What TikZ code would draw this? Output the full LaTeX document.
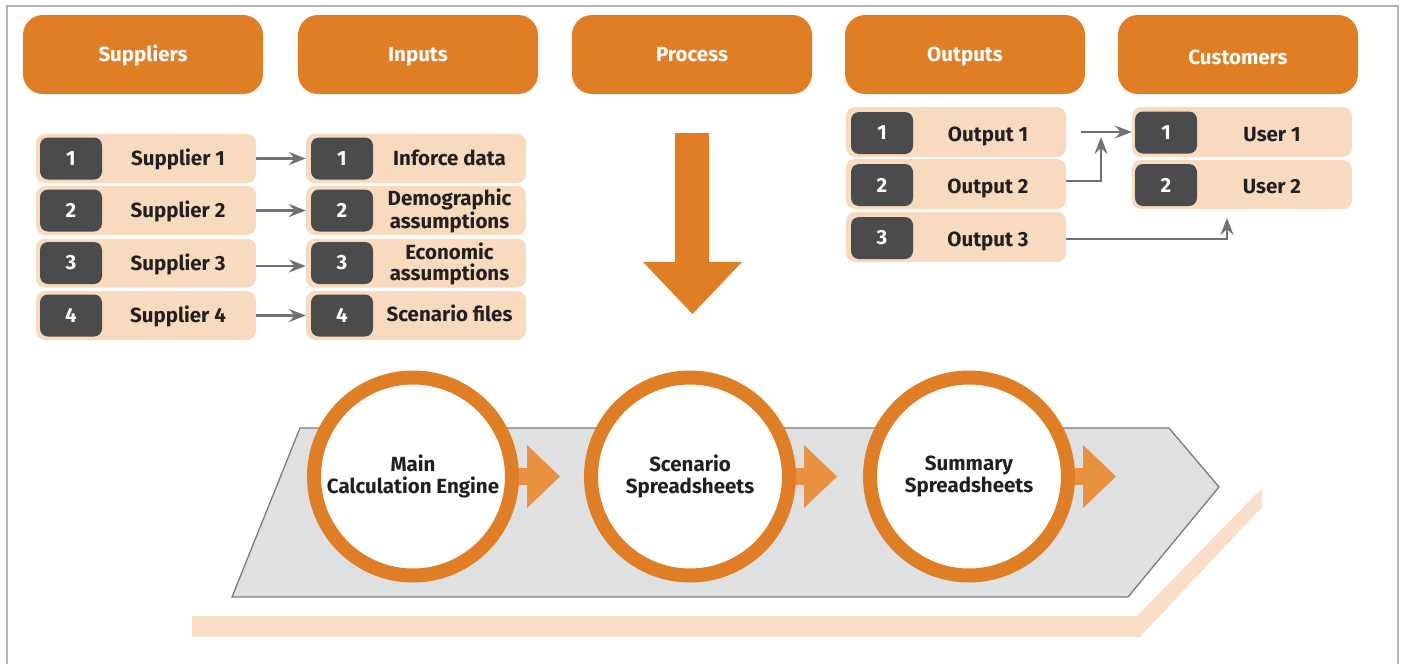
\documentclass[tikz,border=0pt]{standalone}
\usepackage{fontspec}
\setmainfont{Fira Sans}
\usetikzlibrary{arrows.meta}
\definecolor{orng}{HTML}{E07E26}
\definecolor{orng2}{HTML}{E8913F}
\definecolor{peach}{HTML}{F8DBBE}
\definecolor{bandc}{HTML}{F9DFC8}
\definecolor{darkb}{HTML}{4A4B4D}
\definecolor{txt}{HTML}{231F20}
\definecolor{arrowgray}{HTML}{707174}
\definecolor{chev}{HTML}{DFE0E2}
\definecolor{chevline}{HTML}{7A7B7D}
\definecolor{framegray}{HTML}{B3B3B3}
\newcommand\hdrfont{\fontsize{20.5}{22}\selectfont\bfseries}
\newcommand\rowfont{\fontsize{20.5}{21}\selectfont\bfseries}
\newcommand\twofont{\fontsize{20.5}{21}\selectfont\bfseries}
\newcommand\circfont{\fontsize{20.5}{21.5}\selectfont\bfseries}
\tikzset{
  hdr/.style={fill=orng, rounded corners=20pt, minimum width=240pt, minimum height=79pt, inner sep=0pt, text=white, font=\hdrfont, text height=14pt, text depth=0pt},
  rowbox/.style={fill=peach, rounded corners=9pt, minimum width=220pt, inner sep=0pt},
  badge/.style={fill=darkb, rounded corners=8pt, minimum width=62pt, minimum height=42pt, inner sep=0pt, text=white, font=\rowfont},
  lbl/.style={text=txt, font=\rowfont, align=center, inner sep=0pt, anchor=base},
  lbltwo/.style={text=txt, font=\twofont, align=center, inner sep=0pt},
  conn/.style={draw=arrowgray, line width=2.5pt, -{Stealth[length=17pt,width=13pt,inset=6pt]}},
  ring/.style={circle, draw=orng, line width=14pt, fill=white, minimum size=198pt, inner sep=0pt, text=txt, font=\circfont, align=center}
}
\begin{document}
\begin{tikzpicture}[x=1pt,y=-1pt]
\useasboundingbox (0,0) rectangle (1403,664);
% frame
\draw[framegray, line width=2pt] (7,664) -- (7,5.5) -- (1398,5.5) -- (1398,664);

% headers
\node[hdr] (hsup) at (143,54.5) {Suppliers};
\node[hdr] (hinp) at (418,54.5) {Inputs};
\node[hdr] (hpro) at (692,54.5) {Process};
\node[hdr] (hout) at (965,54.5) {Outputs};
\node[hdr, text height=20pt] (hcus) at (1238,54.5) {Customers};

% suppliers
\node[rowbox, minimum height=49pt] (s1) at (146,158.5) {};
\node[rowbox, minimum height=49pt] (s2) at (146,210.5) {};
\node[rowbox, minimum height=49pt] (s3) at (146,263) {};
\node[rowbox, minimum height=49pt] (s4) at (146,315.5) {};
\node[badge] (sb1) at (71,158.5) {1};
\node[badge] (sb2) at (71,210.5) {2};
\node[badge] (sb3) at (71,263) {3};
\node[badge] (sb4) at (71,315.5) {4};
\node[lbl] (st1) at (178,165.5) {Supplier 1};
\node[lbl] (st2) at (178,217.5) {Supplier 2};
\node[lbl] (st3) at (178,270) {Supplier 3};
\node[lbl] (st4) at (178,322) {Supplier 4};

% inputs
\node[rowbox, minimum height=49pt] (i1) at (416,158.5) {};
\node[rowbox, minimum height=49pt] (i2) at (416,210.5) {};
\node[rowbox, minimum height=49pt] (i3) at (416,263) {};
\node[rowbox, minimum height=49pt] (i4) at (416,315.5) {};
\node[badge] (ib1) at (342,158.5) {1};
\node[badge] (ib2) at (342,210.5) {2};
\node[badge] (ib3) at (342,263) {3};
\node[badge] (ib4) at (342,315.5) {4};
\node[lbl] (it1) at (449.5,165.5) {Inforce data};
\node[lbltwo] (it2) at (449.5,211) {Demographic\\assumptions};
\node[lbltwo] (it3) at (449.5,263.5) {Economic\\assumptions};
\node[lbl] (it4) at (449.5,321.5) {Scenario files};

% supplier -> input arrows
\draw[conn] (s1.east) -- (i1.west);
\draw[conn] (s2.east) -- (i2.west);
\draw[conn] ([yshift=-3pt]s3.east) -- ([yshift=-3pt]i3.west);
\draw[conn] (s4.east) -- (i4.west);

% outputs
\node[rowbox, minimum height=50pt] (o1) at (956,132) {};
\node[rowbox, minimum height=50pt] (o2) at (956,184) {};
\node[rowbox, minimum height=50pt] (o3) at (956,237) {};
\node[badge] (ob1) at (882,133) {1};
\node[badge] (ob2) at (882,185) {2};
\node[badge] (ob3) at (882,238) {3};
\node[lbl] (ot1) at (988,141.5) {Output 1};
\node[lbl] (ot2) at (988,193.5) {Output 2};
\node[lbl] (ot3) at (988,246.5) {Output 3};

% customers
\node[rowbox, minimum height=50pt] (u1) at (1242,132) {};
\node[rowbox, minimum height=49pt] (u2) at (1242,184.5) {};
\node[badge] (ub1) at (1166,132.5) {1};
\node[badge] (ub2) at (1166,185) {2};
\node[lbl] (ut1) at (1272,141.5) {User 1};
\node[lbl] (ut2) at (1272,193.5) {User 2};

% output -> customer arrows
\coordinate (j1) at (1101,137);
\coordinate (j2) at (1227,218);
\draw[conn] ([xshift=15pt]o1.east) -- (u1.west);
\draw[conn] ([yshift=3pt]o2.east) -| (j1);
\draw[conn] ([yshift=-2pt]o3.east) -| (j2);

% process arrow
\fill[orng] (675,133) -- (709,133) -- (709,262) -- (742,262) -- (692.5,314) -- (643,262) -- (675,262) -- cycle;

% base band and chevron
\fill[bandc] (192,616) -- (1137,616) -- (1262,488) -- (1262,507) -- (1140,637) -- (192,637) -- cycle;
\draw[fill=chev, draw=chevline, line width=1.3pt] (300,428) -- (1169,428) -- (1219,487) -- (1128,597) -- (232,597) -- cycle;

% small arrows
\foreach \cx in {413,690,969}{
  \fill[orng2] ({\cx+100},468) rectangle ({\cx+115},485);
  \fill[orng2] ({\cx+114},445) -- ({\cx+147},476.5) -- ({\cx+114},508) -- cycle;
}

% circles
\node[ring] (c1) at (413,476.5) {Main\\Calculation Engine};
\node[ring] (c2) at (690,476.5) {Scenario\\Spreadsheets};
\node[ring] (c3) at (969,476.5) {Summary\\Spreadsheets};
\end{tikzpicture}
\end{document}
